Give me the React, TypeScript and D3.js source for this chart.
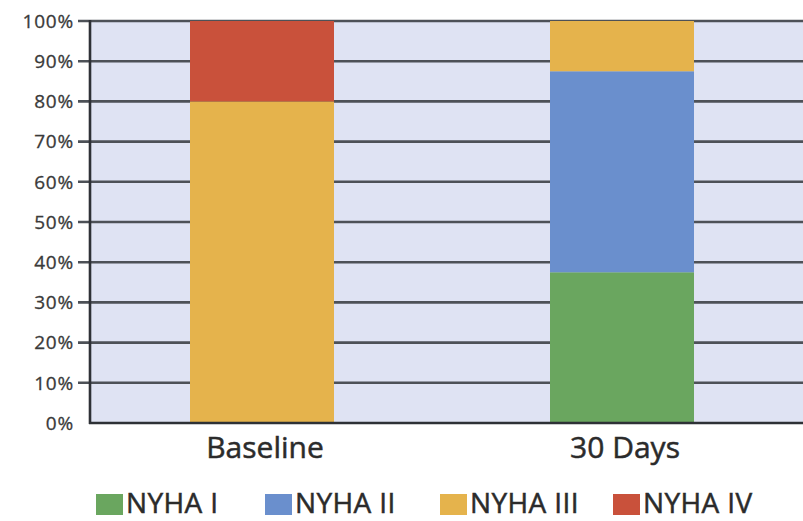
import React from "react";
import * as d3 from "d3";

const categories = ["Baseline", "30 Days"];
const classes = ["NYHA I", "NYHA II", "NYHA III", "NYHA IV"];
const nyha1 = [0, 37.5];
const nyha2 = [0, 50];
const nyha3 = [80, 12.5];
const nyha4 = [20, 0];
const yTicks = [0, 10, 20, 30, 40, 50, 60, 70, 80, 90, 100];

const colors = ["#6aa65f", "#6a8fcd", "#e5b34c", "#c9513b"];

const W = 803;
const H = 521;
const left = 90;
const right = 803;
const top = 21;
const bottom = 423;
const font = "'Open Sans', 'Noto Sans', sans-serif";
const ink = "#2b2b2b";

export default function App() {
  const y = d3.scaleLinear().domain([0, 100]).range([bottom, top]);
  const x = d3
    .scaleBand<string>()
    .domain(categories)
    .range([82, 802])
    .paddingInner(0.6)
    .paddingOuter(0.3);

  const rows = categories.map((c, i) => ({
    cat: c,
    "NYHA I": nyha1[i],
    "NYHA II": nyha2[i],
    "NYHA III": nyha3[i],
    "NYHA IV": nyha4[i],
  }));
  const stacked = d3.stack<any>().keys(classes)(rows);

  const legendX = [96, 265, 440, 613];

  return (
    <svg width={W} height={H} style={{ display: "block", position: "absolute", left: 0, top: 0 }}>
      <rect x={0} y={0} width={W} height={H} fill="#ffffff" />
      <rect x={left} y={top} width={right - left} height={bottom - top} fill="#dfe3f3" />
      {yTicks.map((t) => (
        <g key={t}>
          {t > 0 && (
            <line x1={78} x2={right} y1={y(t)} y2={y(t)} stroke="#4d5157" strokeWidth={2.6} />
          )}
          <text
            x={74}
            y={y(t)}
            dy="0.36em"
            textAnchor="end"
            fontFamily={font}
            fontSize={19}
            letterSpacing={0.8}
            fill="#3a3a3a"
            stroke="#3a3a3a"
            strokeWidth={0.3}
          >
            {t}%
          </text>
        </g>
      ))}
      {stacked.map((layer, li) =>
        layer.map((d, i) =>
          d[1] - d[0] > 0 ? (
            <rect
              key={`${li}-${i}`}
              x={x(categories[i])}
              width={x.bandwidth()}
              y={y(d[1])}
              height={y(d[0]) - y(d[1])}
              fill={colors[li]}
            />
          ) : null
        )
      )}
      <line x1={left} x2={left} y1={top - 1} y2={bottom + 1} stroke="#2e3136" strokeWidth={2.6} />
      <line x1={left - 1} x2={right} y1={bottom} y2={bottom} stroke="#2e3136" strokeWidth={2.6} />
      {categories.map((c) => (
        <text
          key={c}
          x={(x(c) as number) + x.bandwidth() / 2 + 3}
          y={458}
          textAnchor="middle"
          fontFamily={font}
          fontSize={30}
          fill={ink}
          stroke={ink}
          strokeWidth={0.5}
        >
          {c}
        </text>
      ))}
      {classes.map((c, i) => (
        <g key={c}>
          <rect x={legendX[i]} y={494} width={27} height={21} fill={colors[i]} />
          <text
            x={legendX[i] + 30}
            y={513}
            fontFamily={font}
            fontSize={28}
            letterSpacing={0.4}
            fill={ink}
            stroke={ink}
            strokeWidth={0.5}
          >
            {c}
          </text>
        </g>
      ))}
    </svg>
  );
}
